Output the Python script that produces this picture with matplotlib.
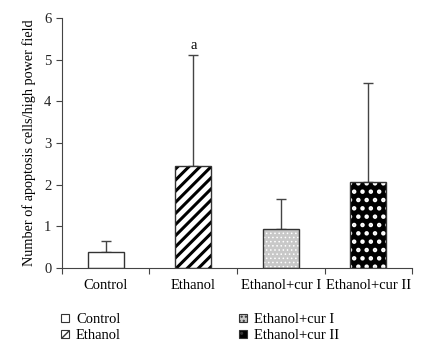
import matplotlib
matplotlib.use("Agg")
import matplotlib.pyplot as plt
from matplotlib.patches import Patch
import numpy as np

# data
groups = ["Control", "Ethanol", "Ethanol+cur I", "Ethanol+cur II"]
means = [0.38, 2.44, 0.93, 2.07]
upper_err = [0.27, 2.67, 0.73, 2.36]
significance = ["", "a", "", ""]
y_ticks = [0, 1, 2, 3, 4, 5, 6]

plt.rcParams["font.family"] = ["Liberation Serif", "DejaVu Serif"]

fig = plt.figure(figsize=(4.24, 3.49), dpi=100)
ax = fig.add_axes([0.146, 0.233, 0.826, 0.715])

x = np.arange(len(groups))
width = 0.41
edge = "#333333"

# fill style for each group: face, hatch, hatch colour, hatch line width
styles = [
    dict(face="white", hatch=None, hcolor=None, hlw=1.0),
    dict(face="white", hatch="///", hcolor="black", hlw=2.2),
    dict(face="#c8c8c8", hatch="....", hcolor="white", hlw=0.6),
    dict(face="black", hatch="..", hcolor="white", hlw=2.0),
]

# -----------------------------------------------------------------------------
# 1. Bars with their fill patterns
# -----------------------------------------------------------------------------
for xi, m, st in zip(x, means, styles):
    if st["hatch"] is not None:
        with plt.rc_context({"hatch.linewidth": st["hlw"]}):
            ax.bar(xi, m, width, color=st["face"], edgecolor=st["hcolor"],
                   hatch=st["hatch"], linewidth=0, zorder=2)
    else:
        ax.bar(xi, m, width, color=st["face"], linewidth=0, zorder=2)
    ax.bar(xi, m, width, fill=False, edgecolor=edge, linewidth=1.0, zorder=3)

# -----------------------------------------------------------------------------
# 2. One-sided error bars and the significance mark
# -----------------------------------------------------------------------------
ax.errorbar(x, means, yerr=[np.zeros(len(means)), upper_err], fmt="none",
            ecolor="#444444", elinewidth=1.0, capsize=3.5, capthick=1.0, zorder=1)
for xi, m, e, s in zip(x, means, upper_err, significance):
    if s:
        ax.text(xi, m + e + 0.08, s, ha="center", va="bottom", fontsize=10.5)

# -----------------------------------------------------------------------------
# 3. Axes formatting
# -----------------------------------------------------------------------------
ax.set_xlim(-0.5, len(groups) - 0.5)
ax.set_ylim(0, 6)
ax.set_yticks(y_ticks)
ax.set_xticks(np.arange(len(groups) + 1) - 0.5)
ax.set_xticklabels([])
ax.set_xticks(x, minor=True)
ax.set_xticklabels(groups, minor=True, fontsize=10.5)
ax.tick_params(axis="x", which="minor", length=0, pad=8)
ax.tick_params(axis="x", which="major", length=4, color="#444444")
ax.tick_params(axis="y", length=4, labelsize=10.5, color="#444444", labelcolor="#222222")
for side in ["top", "right"]:
    ax.spines[side].set_visible(False)
for side in ["left", "bottom"]:
    ax.spines[side].set_color("#444444")
ax.set_ylabel("Number of apoptosis cells/high power field", fontsize=10.3, labelpad=6)

# -----------------------------------------------------------------------------
# 4. Legend below the axes
# -----------------------------------------------------------------------------
legend_handles = []
for st in styles:
    if st["hatch"] is None:
        legend_handles.append(Patch(facecolor="white", edgecolor=edge, linewidth=0.8))
    else:
        with plt.rc_context({"hatch.linewidth": st["hlw"] * 1.5}):
            legend_handles.append(Patch(facecolor=st["face"], edgecolor=edge,
                                        hatch=st["hatch"], linewidth=0.8))
fig.legend(legend_handles, groups, ncol=2, loc="upper left",
           bbox_to_anchor=(0.114, 0.14), frameon=False, fontsize=10.5,
           handlelength=0.55, handleheight=0.55, handletextpad=0.45,
           columnspacing=8.1, labelspacing=0.2)

fig.savefig("out.png", dpi=100)
